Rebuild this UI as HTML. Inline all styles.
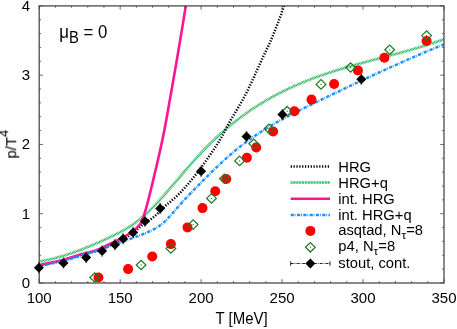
<!DOCTYPE html><html><head><meta charset="utf-8"><title>p/T^4 vs T</title><style>html,body{margin:0;padding:0;background:#fff}svg{display:block}text{font-family:"Liberation Sans",sans-serif;fill:#000;will-change:transform}</style></head><body>
<svg width="457" height="329" viewBox="0 0 457 329">
<rect width="457" height="329" fill="#fff"/>
<defs><clipPath id="c"><rect x="39.20" y="5.90" width="404.80" height="277.10"/></clipPath></defs>
<g clip-path="url(#c)" fill="none">
<clipPath id="gb"><path d="M38.78 260.29 L40.13 260.06 L41.48 259.82 L42.82 259.57 L44.17 259.31 L45.51 259.04 L46.85 258.76 L48.20 258.47 L49.54 258.16 L50.89 257.85 L52.23 257.52 L53.58 257.18 L54.93 256.84 L56.27 256.48 L57.62 256.11 L58.96 255.74 L60.31 255.35 L61.66 254.95 L63.00 254.55 L64.35 254.13 L65.70 253.71 L67.04 253.28 L68.39 252.84 L69.74 252.39 L71.09 251.93 L72.43 251.46 L73.78 250.99 L75.13 250.50 L76.48 250.01 L77.83 249.51 L79.18 249.01 L80.52 248.49 L81.87 247.97 L83.22 247.44 L84.57 246.91 L85.92 246.37 L87.27 245.82 L88.62 245.26 L89.97 244.70 L91.32 244.13 L92.67 243.56 L94.02 242.98 L95.37 242.39 L96.72 241.80 L98.07 241.21 L99.42 240.60 L100.77 240.00 L102.12 239.39 L103.47 238.77 L104.83 238.15 L106.18 237.52 L107.53 236.89 L108.88 236.25 L110.23 235.62 L111.58 234.97 L112.93 234.32 L114.28 233.67 L115.63 233.00 L116.97 232.32 L118.32 231.63 L119.66 230.93 L121.01 230.21 L122.35 229.48 L123.69 228.72 L125.03 227.95 L126.37 227.15 L127.71 226.33 L129.05 225.49 L130.39 224.62 L131.73 223.72 L133.07 222.79 L134.40 221.83 L135.74 220.84 L137.08 219.81 L138.42 218.75 L139.76 217.65 L141.10 216.52 L142.44 215.36 L143.78 214.17 L145.13 212.94 L146.47 211.69 L147.82 210.41 L149.16 209.11 L150.51 207.78 L151.85 206.43 L153.20 205.05 L154.55 203.65 L155.90 202.23 L157.25 200.80 L158.60 199.34 L159.95 197.87 L161.30 196.38 L162.65 194.88 L164.00 193.36 L165.35 191.83 L166.70 190.29 L168.05 188.74 L169.40 187.18 L170.76 185.61 L172.11 184.04 L173.46 182.46 L174.82 180.87 L176.17 179.29 L177.53 177.70 L178.88 176.11 L180.23 174.51 L181.59 172.93 L182.95 171.34 L184.30 169.76 L185.66 168.18 L187.01 166.61 L188.37 165.04 L189.73 163.48 L191.08 161.94 L192.44 160.40 L193.80 158.87 L195.16 157.36 L196.52 155.86 L197.88 154.38 L199.24 152.91 L200.60 151.46 L201.96 150.02 L203.32 148.61 L204.68 147.21 L206.04 145.82 L207.40 144.45 L208.76 143.10 L210.12 141.76 L211.48 140.44 L212.84 139.14 L214.20 137.85 L215.56 136.58 L216.92 135.32 L218.28 134.07 L219.64 132.85 L221.00 131.63 L222.36 130.43 L223.72 129.25 L225.08 128.08 L226.44 126.93 L227.80 125.79 L229.16 124.66 L230.52 123.55 L231.88 122.45 L233.24 121.36 L234.60 120.29 L235.96 119.23 L237.33 118.19 L238.69 117.16 L240.05 116.14 L241.41 115.14 L242.77 114.14 L244.13 113.16 L245.49 112.20 L246.85 111.24 L248.21 110.30 L249.57 109.37 L250.93 108.45 L252.30 107.54 L253.66 106.65 L255.02 105.76 L256.38 104.89 L257.74 104.03 L259.10 103.18 L260.46 102.34 L261.82 101.52 L263.18 100.70 L264.54 99.89 L265.91 99.10 L267.27 98.31 L268.63 97.54 L269.99 96.77 L271.35 96.02 L272.71 95.27 L274.07 94.54 L275.43 93.81 L276.79 93.10 L278.15 92.39 L279.51 91.69 L280.87 91.00 L282.23 90.32 L283.59 89.65 L284.96 88.99 L286.32 88.33 L287.68 87.69 L289.04 87.05 L290.40 86.42 L291.76 85.80 L293.12 85.19 L294.48 84.58 L295.84 83.98 L297.20 83.39 L298.56 82.81 L299.92 82.23 L301.28 81.66 L302.64 81.10 L304.00 80.55 L305.36 80.00 L306.72 79.46 L308.08 78.92 L309.43 78.39 L310.79 77.87 L312.15 77.36 L313.51 76.85 L314.87 76.34 L316.23 75.85 L317.59 75.35 L318.95 74.87 L320.31 74.39 L321.67 73.91 L323.02 73.44 L324.38 72.97 L325.74 72.51 L327.10 72.06 L328.46 71.61 L329.82 71.16 L331.18 70.72 L332.53 70.28 L333.89 69.85 L335.25 69.42 L336.61 69.00 L337.96 68.58 L339.32 68.16 L340.68 67.75 L342.04 67.34 L343.39 66.93 L344.75 66.53 L346.11 66.13 L347.47 65.73 L348.82 65.34 L350.18 64.95 L351.54 64.56 L352.89 64.17 L354.25 63.79 L355.61 63.41 L356.96 63.03 L358.32 62.66 L359.68 62.28 L361.03 61.91 L362.39 61.54 L363.74 61.17 L365.10 60.80 L366.45 60.44 L367.81 60.07 L369.17 59.71 L370.52 59.35 L371.88 58.98 L373.23 58.62 L374.59 58.26 L375.94 57.90 L377.30 57.54 L378.65 57.19 L380.01 56.83 L381.36 56.47 L382.71 56.11 L384.07 55.75 L385.42 55.39 L386.78 55.03 L388.13 54.67 L389.48 54.31 L390.84 53.95 L392.19 53.59 L393.55 53.23 L394.90 52.86 L396.25 52.50 L397.61 52.13 L398.96 51.76 L400.31 51.39 L401.66 51.02 L403.02 50.65 L404.37 50.27 L405.72 49.89 L407.08 49.51 L408.43 49.13 L409.78 48.75 L411.13 48.36 L412.49 47.97 L413.84 47.58 L415.19 47.18 L416.54 46.79 L417.89 46.39 L419.24 45.98 L420.60 45.57 L421.95 45.16 L423.30 44.75 L424.65 44.33 L426.00 43.91 L427.35 43.48 L428.70 43.05 L430.05 42.61 L431.41 42.17 L432.76 41.73 L434.11 41.28 L435.46 40.83 L436.81 40.37 L438.16 39.91 L439.51 39.44 L440.86 38.97 L442.21 38.49 L443.56 38.01 L444.44 40.45 L443.08 40.94 L441.72 41.42 L440.36 41.90 L439.01 42.37 L437.65 42.83 L436.29 43.29 L434.93 43.75 L433.57 44.20 L432.21 44.65 L430.85 45.09 L429.50 45.52 L428.14 45.96 L426.78 46.39 L425.42 46.81 L424.07 47.23 L422.71 47.65 L421.35 48.06 L419.99 48.47 L418.64 48.88 L417.28 49.28 L415.92 49.68 L414.56 50.08 L413.21 50.47 L411.85 50.86 L410.49 51.25 L409.14 51.63 L407.78 52.02 L406.42 52.40 L405.07 52.78 L403.71 53.15 L402.36 53.53 L401.00 53.90 L399.64 54.27 L398.29 54.64 L396.93 55.01 L395.58 55.37 L394.22 55.74 L392.86 56.10 L391.51 56.46 L390.15 56.82 L388.80 57.19 L387.44 57.55 L386.09 57.91 L384.73 58.26 L383.38 58.62 L382.02 58.98 L380.67 59.34 L379.32 59.70 L377.96 60.06 L376.61 60.42 L375.25 60.78 L373.90 61.14 L372.55 61.50 L371.19 61.86 L369.84 62.22 L368.48 62.58 L367.13 62.95 L365.78 63.31 L364.42 63.68 L363.07 64.05 L361.72 64.42 L360.37 64.79 L359.01 65.16 L357.66 65.54 L356.31 65.91 L354.95 66.29 L353.60 66.68 L352.25 67.06 L350.90 67.45 L349.54 67.84 L348.19 68.23 L346.84 68.62 L345.49 69.02 L344.14 69.42 L342.79 69.83 L341.43 70.24 L340.08 70.65 L338.73 71.06 L337.38 71.48 L336.03 71.90 L334.68 72.33 L333.33 72.76 L331.98 73.19 L330.62 73.63 L329.27 74.08 L327.92 74.53 L326.57 74.98 L325.22 75.44 L323.87 75.90 L322.52 76.37 L321.17 76.84 L319.82 77.32 L318.47 77.80 L317.12 78.29 L315.77 78.78 L314.42 79.28 L313.07 79.79 L311.72 80.30 L310.37 80.82 L309.02 81.34 L307.67 81.88 L306.32 82.41 L304.97 82.96 L303.62 83.51 L302.27 84.06 L300.93 84.63 L299.58 85.20 L298.23 85.78 L296.88 86.36 L295.53 86.96 L294.18 87.56 L292.83 88.17 L291.48 88.78 L290.13 89.41 L288.79 90.04 L287.44 90.68 L286.09 91.33 L284.74 91.99 L283.39 92.65 L282.04 93.32 L280.69 94.01 L279.35 94.70 L278.00 95.40 L276.65 96.11 L275.30 96.83 L273.95 97.56 L272.60 98.30 L271.26 99.04 L269.91 99.80 L268.56 100.57 L267.21 101.35 L265.86 102.13 L264.52 102.93 L263.17 103.74 L261.82 104.56 L260.47 105.39 L259.12 106.23 L257.77 107.09 L256.43 107.95 L255.08 108.82 L253.73 109.71 L252.38 110.61 L251.03 111.52 L249.69 112.44 L248.34 113.37 L246.99 114.32 L245.64 115.28 L244.29 116.25 L242.95 117.23 L241.60 118.23 L240.25 119.24 L238.90 120.26 L237.55 121.29 L236.21 122.34 L234.86 123.40 L233.51 124.48 L232.16 125.57 L230.81 126.67 L229.46 127.78 L228.12 128.91 L226.77 130.06 L225.42 131.22 L224.07 132.39 L222.72 133.58 L221.37 134.78 L220.02 136.00 L218.68 137.23 L217.33 138.48 L215.98 139.74 L214.63 141.02 L213.28 142.31 L211.93 143.62 L210.58 144.95 L209.23 146.29 L207.88 147.65 L206.54 149.02 L205.19 150.41 L203.84 151.82 L202.49 153.24 L201.14 154.68 L199.79 156.14 L198.44 157.61 L197.09 159.10 L195.74 160.61 L194.39 162.12 L193.04 163.65 L191.68 165.20 L190.33 166.75 L188.98 168.31 L187.63 169.88 L186.27 171.45 L184.92 173.03 L183.57 174.61 L182.21 176.20 L180.86 177.79 L179.50 179.38 L178.15 180.97 L176.79 182.56 L175.44 184.15 L174.08 185.73 L172.73 187.31 L171.37 188.88 L170.01 190.44 L168.66 192.00 L167.30 193.55 L165.94 195.08 L164.58 196.61 L163.23 198.12 L161.87 199.62 L160.51 201.10 L159.15 202.57 L157.79 204.02 L156.43 205.45 L155.07 206.86 L153.70 208.25 L152.34 209.62 L150.98 210.97 L149.62 212.29 L148.25 213.59 L146.89 214.86 L145.52 216.10 L144.15 217.31 L142.79 218.50 L141.42 219.65 L140.05 220.77 L138.68 221.86 L137.31 222.91 L135.94 223.93 L134.57 224.91 L133.19 225.87 L131.82 226.79 L130.45 227.68 L129.08 228.54 L127.71 229.38 L126.35 230.19 L124.98 230.98 L123.61 231.75 L122.24 232.50 L120.88 233.23 L119.51 233.94 L118.15 234.64 L116.79 235.33 L115.43 236.00 L114.07 236.66 L112.71 237.32 L111.35 237.96 L109.99 238.61 L108.63 239.24 L107.27 239.88 L105.92 240.51 L104.56 241.13 L103.20 241.75 L101.84 242.37 L100.48 242.98 L99.13 243.58 L97.77 244.18 L96.41 244.78 L95.05 245.37 L93.69 245.95 L92.33 246.53 L90.97 247.10 L89.61 247.67 L88.25 248.23 L86.90 248.78 L85.54 249.32 L84.18 249.86 L82.82 250.40 L81.46 250.92 L80.10 251.44 L78.73 251.95 L77.37 252.45 L76.01 252.95 L74.65 253.44 L73.29 253.92 L71.93 254.39 L70.57 254.85 L69.21 255.30 L67.85 255.75 L66.48 256.19 L65.12 256.62 L63.76 257.04 L62.40 257.45 L61.03 257.85 L59.67 258.24 L58.31 258.62 L56.95 258.99 L55.58 259.35 L54.22 259.70 L52.86 260.04 L51.49 260.37 L50.13 260.69 L48.76 261.00 L47.40 261.30 L46.04 261.59 L44.67 261.86 L43.31 262.13 L41.94 262.38 L40.58 262.62 L39.22 262.85Z"/></clipPath>
<g clip-path="url(#gb)"><path d="M38.78 260.29 L40.13 260.06 L41.48 259.82 L42.82 259.57 L44.17 259.31 L45.51 259.04 L46.85 258.76 L48.20 258.47 L49.54 258.16 L50.89 257.85 L52.23 257.52 L53.58 257.18 L54.93 256.84 L56.27 256.48 L57.62 256.11 L58.96 255.74 L60.31 255.35 L61.66 254.95 L63.00 254.55 L64.35 254.13 L65.70 253.71 L67.04 253.28 L68.39 252.84 L69.74 252.39 L71.09 251.93 L72.43 251.46 L73.78 250.99 L75.13 250.50 L76.48 250.01 L77.83 249.51 L79.18 249.01 L80.52 248.49 L81.87 247.97 L83.22 247.44 L84.57 246.91 L85.92 246.37 L87.27 245.82 L88.62 245.26 L89.97 244.70 L91.32 244.13 L92.67 243.56 L94.02 242.98 L95.37 242.39 L96.72 241.80 L98.07 241.21 L99.42 240.60 L100.77 240.00 L102.12 239.39 L103.47 238.77 L104.83 238.15 L106.18 237.52 L107.53 236.89 L108.88 236.25 L110.23 235.62 L111.58 234.97 L112.93 234.32 L114.28 233.67 L115.63 233.00 L116.97 232.32 L118.32 231.63 L119.66 230.93 L121.01 230.21 L122.35 229.48 L123.69 228.72 L125.03 227.95 L126.37 227.15 L127.71 226.33 L129.05 225.49 L130.39 224.62 L131.73 223.72 L133.07 222.79 L134.40 221.83 L135.74 220.84 L137.08 219.81 L138.42 218.75 L139.76 217.65 L141.10 216.52 L142.44 215.36 L143.78 214.17 L145.13 212.94 L146.47 211.69 L147.82 210.41 L149.16 209.11 L150.51 207.78 L151.85 206.43 L153.20 205.05 L154.55 203.65 L155.90 202.23 L157.25 200.80 L158.60 199.34 L159.95 197.87 L161.30 196.38 L162.65 194.88 L164.00 193.36 L165.35 191.83 L166.70 190.29 L168.05 188.74 L169.40 187.18 L170.76 185.61 L172.11 184.04 L173.46 182.46 L174.82 180.87 L176.17 179.29 L177.53 177.70 L178.88 176.11 L180.23 174.51 L181.59 172.93 L182.95 171.34 L184.30 169.76 L185.66 168.18 L187.01 166.61 L188.37 165.04 L189.73 163.48 L191.08 161.94 L192.44 160.40 L193.80 158.87 L195.16 157.36 L196.52 155.86 L197.88 154.38 L199.24 152.91 L200.60 151.46 L201.96 150.02 L203.32 148.61 L204.68 147.21 L206.04 145.82 L207.40 144.45 L208.76 143.10 L210.12 141.76 L211.48 140.44 L212.84 139.14 L214.20 137.85 L215.56 136.58 L216.92 135.32 L218.28 134.07 L219.64 132.85 L221.00 131.63 L222.36 130.43 L223.72 129.25 L225.08 128.08 L226.44 126.93 L227.80 125.79 L229.16 124.66 L230.52 123.55 L231.88 122.45 L233.24 121.36 L234.60 120.29 L235.96 119.23 L237.33 118.19 L238.69 117.16 L240.05 116.14 L241.41 115.14 L242.77 114.14 L244.13 113.16 L245.49 112.20 L246.85 111.24 L248.21 110.30 L249.57 109.37 L250.93 108.45 L252.30 107.54 L253.66 106.65 L255.02 105.76 L256.38 104.89 L257.74 104.03 L259.10 103.18 L260.46 102.34 L261.82 101.52 L263.18 100.70 L264.54 99.89 L265.91 99.10 L267.27 98.31 L268.63 97.54 L269.99 96.77 L271.35 96.02 L272.71 95.27 L274.07 94.54 L275.43 93.81 L276.79 93.10 L278.15 92.39 L279.51 91.69 L280.87 91.00 L282.23 90.32 L283.59 89.65 L284.96 88.99 L286.32 88.33 L287.68 87.69 L289.04 87.05 L290.40 86.42 L291.76 85.80 L293.12 85.19 L294.48 84.58 L295.84 83.98 L297.20 83.39 L298.56 82.81 L299.92 82.23 L301.28 81.66 L302.64 81.10 L304.00 80.55 L305.36 80.00 L306.72 79.46 L308.08 78.92 L309.43 78.39 L310.79 77.87 L312.15 77.36 L313.51 76.85 L314.87 76.34 L316.23 75.85 L317.59 75.35 L318.95 74.87 L320.31 74.39 L321.67 73.91 L323.02 73.44 L324.38 72.97 L325.74 72.51 L327.10 72.06 L328.46 71.61 L329.82 71.16 L331.18 70.72 L332.53 70.28 L333.89 69.85 L335.25 69.42 L336.61 69.00 L337.96 68.58 L339.32 68.16 L340.68 67.75 L342.04 67.34 L343.39 66.93 L344.75 66.53 L346.11 66.13 L347.47 65.73 L348.82 65.34 L350.18 64.95 L351.54 64.56 L352.89 64.17 L354.25 63.79 L355.61 63.41 L356.96 63.03 L358.32 62.66 L359.68 62.28 L361.03 61.91 L362.39 61.54 L363.74 61.17 L365.10 60.80 L366.45 60.44 L367.81 60.07 L369.17 59.71 L370.52 59.35 L371.88 58.98 L373.23 58.62 L374.59 58.26 L375.94 57.90 L377.30 57.54 L378.65 57.19 L380.01 56.83 L381.36 56.47 L382.71 56.11 L384.07 55.75 L385.42 55.39 L386.78 55.03 L388.13 54.67 L389.48 54.31 L390.84 53.95 L392.19 53.59 L393.55 53.23 L394.90 52.86 L396.25 52.50 L397.61 52.13 L398.96 51.76 L400.31 51.39 L401.66 51.02 L403.02 50.65 L404.37 50.27 L405.72 49.89 L407.08 49.51 L408.43 49.13 L409.78 48.75 L411.13 48.36 L412.49 47.97 L413.84 47.58 L415.19 47.18 L416.54 46.79 L417.89 46.39 L419.24 45.98 L420.60 45.57 L421.95 45.16 L423.30 44.75 L424.65 44.33 L426.00 43.91 L427.35 43.48 L428.70 43.05 L430.05 42.61 L431.41 42.17 L432.76 41.73 L434.11 41.28 L435.46 40.83 L436.81 40.37 L438.16 39.91 L439.51 39.44 L440.86 38.97 L442.21 38.49 L443.56 38.01 L444.44 40.45 L443.08 40.94 L441.72 41.42 L440.36 41.90 L439.01 42.37 L437.65 42.83 L436.29 43.29 L434.93 43.75 L433.57 44.20 L432.21 44.65 L430.85 45.09 L429.50 45.52 L428.14 45.96 L426.78 46.39 L425.42 46.81 L424.07 47.23 L422.71 47.65 L421.35 48.06 L419.99 48.47 L418.64 48.88 L417.28 49.28 L415.92 49.68 L414.56 50.08 L413.21 50.47 L411.85 50.86 L410.49 51.25 L409.14 51.63 L407.78 52.02 L406.42 52.40 L405.07 52.78 L403.71 53.15 L402.36 53.53 L401.00 53.90 L399.64 54.27 L398.29 54.64 L396.93 55.01 L395.58 55.37 L394.22 55.74 L392.86 56.10 L391.51 56.46 L390.15 56.82 L388.80 57.19 L387.44 57.55 L386.09 57.91 L384.73 58.26 L383.38 58.62 L382.02 58.98 L380.67 59.34 L379.32 59.70 L377.96 60.06 L376.61 60.42 L375.25 60.78 L373.90 61.14 L372.55 61.50 L371.19 61.86 L369.84 62.22 L368.48 62.58 L367.13 62.95 L365.78 63.31 L364.42 63.68 L363.07 64.05 L361.72 64.42 L360.37 64.79 L359.01 65.16 L357.66 65.54 L356.31 65.91 L354.95 66.29 L353.60 66.68 L352.25 67.06 L350.90 67.45 L349.54 67.84 L348.19 68.23 L346.84 68.62 L345.49 69.02 L344.14 69.42 L342.79 69.83 L341.43 70.24 L340.08 70.65 L338.73 71.06 L337.38 71.48 L336.03 71.90 L334.68 72.33 L333.33 72.76 L331.98 73.19 L330.62 73.63 L329.27 74.08 L327.92 74.53 L326.57 74.98 L325.22 75.44 L323.87 75.90 L322.52 76.37 L321.17 76.84 L319.82 77.32 L318.47 77.80 L317.12 78.29 L315.77 78.78 L314.42 79.28 L313.07 79.79 L311.72 80.30 L310.37 80.82 L309.02 81.34 L307.67 81.88 L306.32 82.41 L304.97 82.96 L303.62 83.51 L302.27 84.06 L300.93 84.63 L299.58 85.20 L298.23 85.78 L296.88 86.36 L295.53 86.96 L294.18 87.56 L292.83 88.17 L291.48 88.78 L290.13 89.41 L288.79 90.04 L287.44 90.68 L286.09 91.33 L284.74 91.99 L283.39 92.65 L282.04 93.32 L280.69 94.01 L279.35 94.70 L278.00 95.40 L276.65 96.11 L275.30 96.83 L273.95 97.56 L272.60 98.30 L271.26 99.04 L269.91 99.80 L268.56 100.57 L267.21 101.35 L265.86 102.13 L264.52 102.93 L263.17 103.74 L261.82 104.56 L260.47 105.39 L259.12 106.23 L257.77 107.09 L256.43 107.95 L255.08 108.82 L253.73 109.71 L252.38 110.61 L251.03 111.52 L249.69 112.44 L248.34 113.37 L246.99 114.32 L245.64 115.28 L244.29 116.25 L242.95 117.23 L241.60 118.23 L240.25 119.24 L238.90 120.26 L237.55 121.29 L236.21 122.34 L234.86 123.40 L233.51 124.48 L232.16 125.57 L230.81 126.67 L229.46 127.78 L228.12 128.91 L226.77 130.06 L225.42 131.22 L224.07 132.39 L222.72 133.58 L221.37 134.78 L220.02 136.00 L218.68 137.23 L217.33 138.48 L215.98 139.74 L214.63 141.02 L213.28 142.31 L211.93 143.62 L210.58 144.95 L209.23 146.29 L207.88 147.65 L206.54 149.02 L205.19 150.41 L203.84 151.82 L202.49 153.24 L201.14 154.68 L199.79 156.14 L198.44 157.61 L197.09 159.10 L195.74 160.61 L194.39 162.12 L193.04 163.65 L191.68 165.20 L190.33 166.75 L188.98 168.31 L187.63 169.88 L186.27 171.45 L184.92 173.03 L183.57 174.61 L182.21 176.20 L180.86 177.79 L179.50 179.38 L178.15 180.97 L176.79 182.56 L175.44 184.15 L174.08 185.73 L172.73 187.31 L171.37 188.88 L170.01 190.44 L168.66 192.00 L167.30 193.55 L165.94 195.08 L164.58 196.61 L163.23 198.12 L161.87 199.62 L160.51 201.10 L159.15 202.57 L157.79 204.02 L156.43 205.45 L155.07 206.86 L153.70 208.25 L152.34 209.62 L150.98 210.97 L149.62 212.29 L148.25 213.59 L146.89 214.86 L145.52 216.10 L144.15 217.31 L142.79 218.50 L141.42 219.65 L140.05 220.77 L138.68 221.86 L137.31 222.91 L135.94 223.93 L134.57 224.91 L133.19 225.87 L131.82 226.79 L130.45 227.68 L129.08 228.54 L127.71 229.38 L126.35 230.19 L124.98 230.98 L123.61 231.75 L122.24 232.50 L120.88 233.23 L119.51 233.94 L118.15 234.64 L116.79 235.33 L115.43 236.00 L114.07 236.66 L112.71 237.32 L111.35 237.96 L109.99 238.61 L108.63 239.24 L107.27 239.88 L105.92 240.51 L104.56 241.13 L103.20 241.75 L101.84 242.37 L100.48 242.98 L99.13 243.58 L97.77 244.18 L96.41 244.78 L95.05 245.37 L93.69 245.95 L92.33 246.53 L90.97 247.10 L89.61 247.67 L88.25 248.23 L86.90 248.78 L85.54 249.32 L84.18 249.86 L82.82 250.40 L81.46 250.92 L80.10 251.44 L78.73 251.95 L77.37 252.45 L76.01 252.95 L74.65 253.44 L73.29 253.92 L71.93 254.39 L70.57 254.85 L69.21 255.30 L67.85 255.75 L66.48 256.19 L65.12 256.62 L63.76 257.04 L62.40 257.45 L61.03 257.85 L59.67 258.24 L58.31 258.62 L56.95 258.99 L55.58 259.35 L54.22 259.70 L52.86 260.04 L51.49 260.37 L50.13 260.69 L48.76 261.00 L47.40 261.30 L46.04 261.59 L44.67 261.86 L43.31 262.13 L41.94 262.38 L40.58 262.62 L39.22 262.85Z" fill="#dcf6e6"/><path d="M-189.64 263.85 L37.20 37.01 M-186.94 263.85 L39.90 37.01 M-184.24 263.85 L42.60 37.01 M-181.54 263.85 L45.30 37.01 M-178.84 263.85 L48.00 37.01 M-176.14 263.85 L50.70 37.01 M-173.44 263.85 L53.40 37.01 M-170.74 263.85 L56.10 37.01 M-168.04 263.85 L58.80 37.01 M-165.34 263.85 L61.50 37.01 M-162.64 263.85 L64.20 37.01 M-159.94 263.85 L66.90 37.01 M-157.24 263.85 L69.60 37.01 M-154.54 263.85 L72.30 37.01 M-151.84 263.85 L75.00 37.01 M-149.14 263.85 L77.70 37.01 M-146.44 263.85 L80.40 37.01 M-143.74 263.85 L83.10 37.01 M-141.04 263.85 L85.80 37.01 M-138.34 263.85 L88.50 37.01 M-135.64 263.85 L91.20 37.01 M-132.94 263.85 L93.90 37.01 M-130.24 263.85 L96.60 37.01 M-127.54 263.85 L99.30 37.01 M-124.84 263.85 L102.00 37.01 M-122.14 263.85 L104.70 37.01 M-119.44 263.85 L107.40 37.01 M-116.74 263.85 L110.10 37.01 M-114.04 263.85 L112.80 37.01 M-111.34 263.85 L115.50 37.01 M-108.64 263.85 L118.20 37.01 M-105.94 263.85 L120.90 37.01 M-103.24 263.85 L123.60 37.01 M-100.54 263.85 L126.30 37.01 M-97.84 263.85 L129.00 37.01 M-95.14 263.85 L131.70 37.01 M-92.44 263.85 L134.40 37.01 M-89.74 263.85 L137.10 37.01 M-87.04 263.85 L139.80 37.01 M-84.34 263.85 L142.50 37.01 M-81.64 263.85 L145.20 37.01 M-78.94 263.85 L147.90 37.01 M-76.24 263.85 L150.60 37.01 M-73.54 263.85 L153.30 37.01 M-70.84 263.85 L156.00 37.01 M-68.14 263.85 L158.70 37.01 M-65.44 263.85 L161.40 37.01 M-62.74 263.85 L164.10 37.01 M-60.04 263.85 L166.80 37.01 M-57.34 263.85 L169.50 37.01 M-54.64 263.85 L172.20 37.01 M-51.94 263.85 L174.90 37.01 M-49.24 263.85 L177.60 37.01 M-46.54 263.85 L180.30 37.01 M-43.84 263.85 L183.00 37.01 M-41.14 263.85 L185.70 37.01 M-38.44 263.85 L188.40 37.01 M-35.74 263.85 L191.10 37.01 M-33.04 263.85 L193.80 37.01 M-30.34 263.85 L196.50 37.01 M-27.64 263.85 L199.20 37.01 M-24.94 263.85 L201.90 37.01 M-22.24 263.85 L204.60 37.01 M-19.54 263.85 L207.30 37.01 M-16.84 263.85 L210.00 37.01 M-14.14 263.85 L212.70 37.01 M-11.44 263.85 L215.40 37.01 M-8.74 263.85 L218.10 37.01 M-6.04 263.85 L220.80 37.01 M-3.34 263.85 L223.50 37.01 M-0.64 263.85 L226.20 37.01 M2.06 263.85 L228.90 37.01 M4.76 263.85 L231.60 37.01 M7.46 263.85 L234.30 37.01 M10.16 263.85 L237.00 37.01 M12.86 263.85 L239.70 37.01 M15.56 263.85 L242.40 37.01 M18.26 263.85 L245.10 37.01 M20.96 263.85 L247.80 37.01 M23.66 263.85 L250.50 37.01 M26.36 263.85 L253.20 37.01 M29.06 263.85 L255.90 37.01 M31.76 263.85 L258.60 37.01 M34.46 263.85 L261.30 37.01 M37.16 263.85 L264.00 37.01 M39.86 263.85 L266.70 37.01 M42.56 263.85 L269.40 37.01 M45.26 263.85 L272.10 37.01 M47.96 263.85 L274.80 37.01 M50.66 263.85 L277.50 37.01 M53.36 263.85 L280.20 37.01 M56.06 263.85 L282.90 37.01 M58.76 263.85 L285.60 37.01 M61.46 263.85 L288.30 37.01 M64.16 263.85 L291.00 37.01 M66.86 263.85 L293.70 37.01 M69.56 263.85 L296.40 37.01 M72.26 263.85 L299.10 37.01 M74.96 263.85 L301.80 37.01 M77.66 263.85 L304.50 37.01 M80.36 263.85 L307.20 37.01 M83.06 263.85 L309.90 37.01 M85.76 263.85 L312.60 37.01 M88.46 263.85 L315.30 37.01 M91.16 263.85 L318.00 37.01 M93.86 263.85 L320.70 37.01 M96.56 263.85 L323.40 37.01 M99.26 263.85 L326.10 37.01 M101.96 263.85 L328.80 37.01 M104.66 263.85 L331.50 37.01 M107.36 263.85 L334.20 37.01 M110.06 263.85 L336.90 37.01 M112.76 263.85 L339.60 37.01 M115.46 263.85 L342.30 37.01 M118.16 263.85 L345.00 37.01 M120.86 263.85 L347.70 37.01 M123.56 263.85 L350.40 37.01 M126.26 263.85 L353.10 37.01 M128.96 263.85 L355.80 37.01 M131.66 263.85 L358.50 37.01 M134.36 263.85 L361.20 37.01 M137.06 263.85 L363.90 37.01 M139.76 263.85 L366.60 37.01 M142.46 263.85 L369.30 37.01 M145.16 263.85 L372.00 37.01 M147.86 263.85 L374.70 37.01 M150.56 263.85 L377.40 37.01 M153.26 263.85 L380.10 37.01 M155.96 263.85 L382.80 37.01 M158.66 263.85 L385.50 37.01 M161.36 263.85 L388.20 37.01 M164.06 263.85 L390.90 37.01 M166.76 263.85 L393.60 37.01 M169.46 263.85 L396.30 37.01 M172.16 263.85 L399.00 37.01 M174.86 263.85 L401.70 37.01 M177.56 263.85 L404.40 37.01 M180.26 263.85 L407.10 37.01 M182.96 263.85 L409.80 37.01 M185.66 263.85 L412.50 37.01 M188.36 263.85 L415.20 37.01 M191.06 263.85 L417.90 37.01 M193.76 263.85 L420.60 37.01 M196.46 263.85 L423.30 37.01 M199.16 263.85 L426.00 37.01 M201.86 263.85 L428.70 37.01 M204.56 263.85 L431.40 37.01 M207.26 263.85 L434.10 37.01 M209.96 263.85 L436.80 37.01 M212.66 263.85 L439.50 37.01 M215.36 263.85 L442.20 37.01 M218.06 263.85 L444.90 37.01 M220.76 263.85 L447.60 37.01 M223.46 263.85 L450.30 37.01 M226.16 263.85 L453.00 37.01 M228.86 263.85 L455.70 37.01 M231.56 263.85 L458.40 37.01 M234.26 263.85 L461.10 37.01 M236.96 263.85 L463.80 37.01 M239.66 263.85 L466.50 37.01 M242.36 263.85 L469.20 37.01 M245.06 263.85 L471.90 37.01 M247.76 263.85 L474.60 37.01 M250.46 263.85 L477.30 37.01 M253.16 263.85 L480.00 37.01 M255.86 263.85 L482.70 37.01 M258.56 263.85 L485.40 37.01 M261.26 263.85 L488.10 37.01 M263.96 263.85 L490.80 37.01 M266.66 263.85 L493.50 37.01 M269.36 263.85 L496.20 37.01 M272.06 263.85 L498.90 37.01 M274.76 263.85 L501.60 37.01 M277.46 263.85 L504.30 37.01 M280.16 263.85 L507.00 37.01 M282.86 263.85 L509.70 37.01 M285.56 263.85 L512.40 37.01 M288.26 263.85 L515.10 37.01 M290.96 263.85 L517.80 37.01 M293.66 263.85 L520.50 37.01 M296.36 263.85 L523.20 37.01 M299.06 263.85 L525.90 37.01 M301.76 263.85 L528.60 37.01 M304.46 263.85 L531.30 37.01 M307.16 263.85 L534.00 37.01 M309.86 263.85 L536.70 37.01 M312.56 263.85 L539.40 37.01 M315.26 263.85 L542.10 37.01 M317.96 263.85 L544.80 37.01 M320.66 263.85 L547.50 37.01 M323.36 263.85 L550.20 37.01 M326.06 263.85 L552.90 37.01 M328.76 263.85 L555.60 37.01 M331.46 263.85 L558.30 37.01 M334.16 263.85 L561.00 37.01 M336.86 263.85 L563.70 37.01 M339.56 263.85 L566.40 37.01 M342.26 263.85 L569.10 37.01 M344.96 263.85 L571.80 37.01 M347.66 263.85 L574.50 37.01 M350.36 263.85 L577.20 37.01 M353.06 263.85 L579.90 37.01 M355.76 263.85 L582.60 37.01 M358.46 263.85 L585.30 37.01 M361.16 263.85 L588.00 37.01 M363.86 263.85 L590.70 37.01 M366.56 263.85 L593.40 37.01 M369.26 263.85 L596.10 37.01 M371.96 263.85 L598.80 37.01 M374.66 263.85 L601.50 37.01 M377.36 263.85 L604.20 37.01 M380.06 263.85 L606.90 37.01 M382.76 263.85 L609.60 37.01 M385.46 263.85 L612.30 37.01 M388.16 263.85 L615.00 37.01 M390.86 263.85 L617.70 37.01 M393.56 263.85 L620.40 37.01 M396.26 263.85 L623.10 37.01 M398.96 263.85 L625.80 37.01 M401.66 263.85 L628.50 37.01 M404.36 263.85 L631.20 37.01 M407.06 263.85 L633.90 37.01 M409.76 263.85 L636.60 37.01 M412.46 263.85 L639.30 37.01 M415.16 263.85 L642.00 37.01 M417.86 263.85 L644.70 37.01 M420.56 263.85 L647.40 37.01 M423.26 263.85 L650.10 37.01 M425.96 263.85 L652.80 37.01 M428.66 263.85 L655.50 37.01 M431.36 263.85 L658.20 37.01 M434.06 263.85 L660.90 37.01 M436.76 263.85 L663.60 37.01 M439.46 263.85 L666.30 37.01 M442.16 263.85 L669.00 37.01 M444.86 263.85 L671.70 37.01" stroke="#28b35c" stroke-width="1.15"/></g>
<path d="M38.78 260.29 L40.13 260.06 L41.48 259.82 L42.82 259.57 L44.17 259.31 L45.51 259.04 L46.85 258.76 L48.20 258.47 L49.54 258.16 L50.89 257.85 L52.23 257.52 L53.58 257.18 L54.93 256.84 L56.27 256.48 L57.62 256.11 L58.96 255.74 L60.31 255.35 L61.66 254.95 L63.00 254.55 L64.35 254.13 L65.70 253.71 L67.04 253.28 L68.39 252.84 L69.74 252.39 L71.09 251.93 L72.43 251.46 L73.78 250.99 L75.13 250.50 L76.48 250.01 L77.83 249.51 L79.18 249.01 L80.52 248.49 L81.87 247.97 L83.22 247.44 L84.57 246.91 L85.92 246.37 L87.27 245.82 L88.62 245.26 L89.97 244.70 L91.32 244.13 L92.67 243.56 L94.02 242.98 L95.37 242.39 L96.72 241.80 L98.07 241.21 L99.42 240.60 L100.77 240.00 L102.12 239.39 L103.47 238.77 L104.83 238.15 L106.18 237.52 L107.53 236.89 L108.88 236.25 L110.23 235.62 L111.58 234.97 L112.93 234.32 L114.28 233.67 L115.63 233.00 L116.97 232.32 L118.32 231.63 L119.66 230.93 L121.01 230.21 L122.35 229.48 L123.69 228.72 L125.03 227.95 L126.37 227.15 L127.71 226.33 L129.05 225.49 L130.39 224.62 L131.73 223.72 L133.07 222.79 L134.40 221.83 L135.74 220.84 L137.08 219.81 L138.42 218.75 L139.76 217.65 L141.10 216.52 L142.44 215.36 L143.78 214.17 L145.13 212.94 L146.47 211.69 L147.82 210.41 L149.16 209.11 L150.51 207.78 L151.85 206.43 L153.20 205.05 L154.55 203.65 L155.90 202.23 L157.25 200.80 L158.60 199.34 L159.95 197.87 L161.30 196.38 L162.65 194.88 L164.00 193.36 L165.35 191.83 L166.70 190.29 L168.05 188.74 L169.40 187.18 L170.76 185.61 L172.11 184.04 L173.46 182.46 L174.82 180.87 L176.17 179.29 L177.53 177.70 L178.88 176.11 L180.23 174.51 L181.59 172.93 L182.95 171.34 L184.30 169.76 L185.66 168.18 L187.01 166.61 L188.37 165.04 L189.73 163.48 L191.08 161.94 L192.44 160.40 L193.80 158.87 L195.16 157.36 L196.52 155.86 L197.88 154.38 L199.24 152.91 L200.60 151.46 L201.96 150.02 L203.32 148.61 L204.68 147.21 L206.04 145.82 L207.40 144.45 L208.76 143.10 L210.12 141.76 L211.48 140.44 L212.84 139.14 L214.20 137.85 L215.56 136.58 L216.92 135.32 L218.28 134.07 L219.64 132.85 L221.00 131.63 L222.36 130.43 L223.72 129.25 L225.08 128.08 L226.44 126.93 L227.80 125.79 L229.16 124.66 L230.52 123.55 L231.88 122.45 L233.24 121.36 L234.60 120.29 L235.96 119.23 L237.33 118.19 L238.69 117.16 L240.05 116.14 L241.41 115.14 L242.77 114.14 L244.13 113.16 L245.49 112.20 L246.85 111.24 L248.21 110.30 L249.57 109.37 L250.93 108.45 L252.30 107.54 L253.66 106.65 L255.02 105.76 L256.38 104.89 L257.74 104.03 L259.10 103.18 L260.46 102.34 L261.82 101.52 L263.18 100.70 L264.54 99.89 L265.91 99.10 L267.27 98.31 L268.63 97.54 L269.99 96.77 L271.35 96.02 L272.71 95.27 L274.07 94.54 L275.43 93.81 L276.79 93.10 L278.15 92.39 L279.51 91.69 L280.87 91.00 L282.23 90.32 L283.59 89.65 L284.96 88.99 L286.32 88.33 L287.68 87.69 L289.04 87.05 L290.40 86.42 L291.76 85.80 L293.12 85.19 L294.48 84.58 L295.84 83.98 L297.20 83.39 L298.56 82.81 L299.92 82.23 L301.28 81.66 L302.64 81.10 L304.00 80.55 L305.36 80.00 L306.72 79.46 L308.08 78.92 L309.43 78.39 L310.79 77.87 L312.15 77.36 L313.51 76.85 L314.87 76.34 L316.23 75.85 L317.59 75.35 L318.95 74.87 L320.31 74.39 L321.67 73.91 L323.02 73.44 L324.38 72.97 L325.74 72.51 L327.10 72.06 L328.46 71.61 L329.82 71.16 L331.18 70.72 L332.53 70.28 L333.89 69.85 L335.25 69.42 L336.61 69.00 L337.96 68.58 L339.32 68.16 L340.68 67.75 L342.04 67.34 L343.39 66.93 L344.75 66.53 L346.11 66.13 L347.47 65.73 L348.82 65.34 L350.18 64.95 L351.54 64.56 L352.89 64.17 L354.25 63.79 L355.61 63.41 L356.96 63.03 L358.32 62.66 L359.68 62.28 L361.03 61.91 L362.39 61.54 L363.74 61.17 L365.10 60.80 L366.45 60.44 L367.81 60.07 L369.17 59.71 L370.52 59.35 L371.88 58.98 L373.23 58.62 L374.59 58.26 L375.94 57.90 L377.30 57.54 L378.65 57.19 L380.01 56.83 L381.36 56.47 L382.71 56.11 L384.07 55.75 L385.42 55.39 L386.78 55.03 L388.13 54.67 L389.48 54.31 L390.84 53.95 L392.19 53.59 L393.55 53.23 L394.90 52.86 L396.25 52.50 L397.61 52.13 L398.96 51.76 L400.31 51.39 L401.66 51.02 L403.02 50.65 L404.37 50.27 L405.72 49.89 L407.08 49.51 L408.43 49.13 L409.78 48.75 L411.13 48.36 L412.49 47.97 L413.84 47.58 L415.19 47.18 L416.54 46.79 L417.89 46.39 L419.24 45.98 L420.60 45.57 L421.95 45.16 L423.30 44.75 L424.65 44.33 L426.00 43.91 L427.35 43.48 L428.70 43.05 L430.05 42.61 L431.41 42.17 L432.76 41.73 L434.11 41.28 L435.46 40.83 L436.81 40.37 L438.16 39.91 L439.51 39.44 L440.86 38.97 L442.21 38.49 L443.56 38.01" stroke="#a6e4bd" stroke-width="0.4"/>
<path d="M39.22 262.85 L40.58 262.62 L41.94 262.38 L43.31 262.13 L44.67 261.86 L46.04 261.59 L47.40 261.30 L48.76 261.00 L50.13 260.69 L51.49 260.37 L52.86 260.04 L54.22 259.70 L55.58 259.35 L56.95 258.99 L58.31 258.62 L59.67 258.24 L61.03 257.85 L62.40 257.45 L63.76 257.04 L65.12 256.62 L66.48 256.19 L67.85 255.75 L69.21 255.30 L70.57 254.85 L71.93 254.39 L73.29 253.92 L74.65 253.44 L76.01 252.95 L77.37 252.45 L78.73 251.95 L80.10 251.44 L81.46 250.92 L82.82 250.40 L84.18 249.86 L85.54 249.32 L86.90 248.78 L88.25 248.23 L89.61 247.67 L90.97 247.10 L92.33 246.53 L93.69 245.95 L95.05 245.37 L96.41 244.78 L97.77 244.18 L99.13 243.58 L100.48 242.98 L101.84 242.37 L103.20 241.75 L104.56 241.13 L105.92 240.51 L107.27 239.88 L108.63 239.24 L109.99 238.61 L111.35 237.96 L112.71 237.32 L114.07 236.66 L115.43 236.00 L116.79 235.33 L118.15 234.64 L119.51 233.94 L120.88 233.23 L122.24 232.50 L123.61 231.75 L124.98 230.98 L126.35 230.19 L127.71 229.38 L129.08 228.54 L130.45 227.68 L131.82 226.79 L133.19 225.87 L134.57 224.91 L135.94 223.93 L137.31 222.91 L138.68 221.86 L140.05 220.77 L141.42 219.65 L142.79 218.50 L144.15 217.31 L145.52 216.10 L146.89 214.86 L148.25 213.59 L149.62 212.29 L150.98 210.97 L152.34 209.62 L153.70 208.25 L155.07 206.86 L156.43 205.45 L157.79 204.02 L159.15 202.57 L160.51 201.10 L161.87 199.62 L163.23 198.12 L164.58 196.61 L165.94 195.08 L167.30 193.55 L168.66 192.00 L170.01 190.44 L171.37 188.88 L172.73 187.31 L174.08 185.73 L175.44 184.15 L176.79 182.56 L178.15 180.97 L179.50 179.38 L180.86 177.79 L182.21 176.20 L183.57 174.61 L184.92 173.03 L186.27 171.45 L187.63 169.88 L188.98 168.31 L190.33 166.75 L191.68 165.20 L193.04 163.65 L194.39 162.12 L195.74 160.61 L197.09 159.10 L198.44 157.61 L199.79 156.14 L201.14 154.68 L202.49 153.24 L203.84 151.82 L205.19 150.41 L206.54 149.02 L207.88 147.65 L209.23 146.29 L210.58 144.95 L211.93 143.62 L213.28 142.31 L214.63 141.02 L215.98 139.74 L217.33 138.48 L218.68 137.23 L220.02 136.00 L221.37 134.78 L222.72 133.58 L224.07 132.39 L225.42 131.22 L226.77 130.06 L228.12 128.91 L229.46 127.78 L230.81 126.67 L232.16 125.57 L233.51 124.48 L234.86 123.40 L236.21 122.34 L237.55 121.29 L238.90 120.26 L240.25 119.24 L241.60 118.23 L242.95 117.23 L244.29 116.25 L245.64 115.28 L246.99 114.32 L248.34 113.37 L249.69 112.44 L251.03 111.52 L252.38 110.61 L253.73 109.71 L255.08 108.82 L256.43 107.95 L257.77 107.09 L259.12 106.23 L260.47 105.39 L261.82 104.56 L263.17 103.74 L264.52 102.93 L265.86 102.13 L267.21 101.35 L268.56 100.57 L269.91 99.80 L271.26 99.04 L272.60 98.30 L273.95 97.56 L275.30 96.83 L276.65 96.11 L278.00 95.40 L279.35 94.70 L280.69 94.01 L282.04 93.32 L283.39 92.65 L284.74 91.99 L286.09 91.33 L287.44 90.68 L288.79 90.04 L290.13 89.41 L291.48 88.78 L292.83 88.17 L294.18 87.56 L295.53 86.96 L296.88 86.36 L298.23 85.78 L299.58 85.20 L300.93 84.63 L302.27 84.06 L303.62 83.51 L304.97 82.96 L306.32 82.41 L307.67 81.88 L309.02 81.34 L310.37 80.82 L311.72 80.30 L313.07 79.79 L314.42 79.28 L315.77 78.78 L317.12 78.29 L318.47 77.80 L319.82 77.32 L321.17 76.84 L322.52 76.37 L323.87 75.90 L325.22 75.44 L326.57 74.98 L327.92 74.53 L329.27 74.08 L330.62 73.63 L331.98 73.19 L333.33 72.76 L334.68 72.33 L336.03 71.90 L337.38 71.48 L338.73 71.06 L340.08 70.65 L341.43 70.24 L342.79 69.83 L344.14 69.42 L345.49 69.02 L346.84 68.62 L348.19 68.23 L349.54 67.84 L350.90 67.45 L352.25 67.06 L353.60 66.68 L354.95 66.29 L356.31 65.91 L357.66 65.54 L359.01 65.16 L360.37 64.79 L361.72 64.42 L363.07 64.05 L364.42 63.68 L365.78 63.31 L367.13 62.95 L368.48 62.58 L369.84 62.22 L371.19 61.86 L372.55 61.50 L373.90 61.14 L375.25 60.78 L376.61 60.42 L377.96 60.06 L379.32 59.70 L380.67 59.34 L382.02 58.98 L383.38 58.62 L384.73 58.26 L386.09 57.91 L387.44 57.55 L388.80 57.19 L390.15 56.82 L391.51 56.46 L392.86 56.10 L394.22 55.74 L395.58 55.37 L396.93 55.01 L398.29 54.64 L399.64 54.27 L401.00 53.90 L402.36 53.53 L403.71 53.15 L405.07 52.78 L406.42 52.40 L407.78 52.02 L409.14 51.63 L410.49 51.25 L411.85 50.86 L413.21 50.47 L414.56 50.08 L415.92 49.68 L417.28 49.28 L418.64 48.88 L419.99 48.47 L421.35 48.06 L422.71 47.65 L424.07 47.23 L425.42 46.81 L426.78 46.39 L428.14 45.96 L429.50 45.52 L430.85 45.09 L432.21 44.65 L433.57 44.20 L434.93 43.75 L436.29 43.29 L437.65 42.83 L439.01 42.37 L440.36 41.90 L441.72 41.42 L443.08 40.94 L444.44 40.45" stroke="#a6e4bd" stroke-width="0.4"/>
<path d="M39.00 265.40 L40.25 265.19 L41.49 264.98 L42.74 264.76 L43.98 264.53 L45.23 264.30 L46.47 264.07 L47.71 263.83 L48.95 263.58 L50.18 263.33 L51.42 263.07 L52.65 262.81 L53.89 262.54 L55.12 262.27 L56.35 261.99 L57.58 261.71 L58.80 261.42 L60.03 261.13 L61.25 260.84 L62.48 260.53 L63.69 260.21 L64.91 259.87 L66.12 259.52 L67.33 259.16 L68.53 258.79 L69.74 258.41 L70.95 258.02 L72.15 257.64 L73.35 257.25 L74.56 256.86 L75.76 256.47 L76.96 256.09 L78.17 255.71 L79.38 255.33 L80.59 254.97 L81.80 254.62 L83.01 254.27 L84.23 253.95 L85.45 253.63 L86.68 253.34 L87.91 253.08 L89.16 252.84 L90.40 252.60 L91.63 252.33 L92.85 252.04 L94.06 251.70 L95.25 251.34 L96.44 250.95 L97.63 250.53 L98.81 250.09 L99.99 249.64 L101.16 249.16 L102.33 248.67 L103.49 248.17 L104.65 247.65 L105.81 247.13 L106.97 246.60 L108.12 246.07 L109.27 245.54 L110.42 245.00 L111.57 244.47 L112.72 243.95 L113.87 243.43 L115.02 242.92 L116.18 242.40 L117.33 241.87 L118.48 241.34 L119.62 240.80 L120.76 240.26 L121.90 239.70 L123.03 239.13 L124.15 238.55 L125.25 237.96 L126.35 237.34 L127.44 236.71 L128.52 236.05 L129.59 235.38 L130.64 234.68 L131.68 233.96 L132.71 233.22 L133.70 232.46 L134.67 231.65 L135.62 230.82 L136.55 229.97 L137.49 229.12 L138.44 228.28 L139.40 227.46 L140.37 226.65 L141.33 225.83 L142.30 225.02 L143.28 224.22 L144.27 223.44 L145.28 222.69 L146.31 221.97 L147.38 221.29 L148.45 220.61 L149.51 219.93 L150.55 219.22 L151.59 218.50 L152.62 217.76 L153.63 217.01 L154.61 216.22 L155.57 215.41 L156.50 214.56 L157.42 213.69 L158.33 212.81 L159.24 211.93 L160.15 211.06 L161.05 210.17 L161.95 209.28 L162.84 208.39 L163.74 207.50 L164.65 206.63 L165.57 205.77 L166.52 204.93 L167.47 204.11 L168.44 203.29 L169.41 202.48 L170.39 201.67 L171.36 200.87 L172.34 200.06 L173.30 199.25 L174.26 198.42 L175.20 197.59 L176.13 196.74 L177.03 195.87 L177.93 194.99 L178.81 194.10 L179.70 193.20 L180.57 192.29 L181.44 191.38 L182.31 190.46 L183.16 189.53 L184.02 188.60 L184.87 187.66 L185.71 186.71 L186.54 185.76 L187.38 184.81 L188.20 183.85 L189.02 182.88 L189.84 181.92 L190.65 180.95 L191.46 179.97 L192.26 179.00 L193.06 178.02 L193.86 177.04 L194.65 176.06 L195.43 175.08 L196.21 174.09 L196.99 173.10 L197.76 172.10 L198.52 171.10 L199.29 170.09 L200.04 169.08 L200.79 168.07 L201.54 167.05 L202.28 166.02 L203.02 165.00 L203.76 163.97 L204.49 162.94 L205.22 161.91 L205.95 160.87 L206.67 159.84 L207.39 158.80 L208.11 157.76 L208.82 156.72 L209.54 155.68 L210.25 154.64 L210.96 153.60 L211.67 152.55 L212.38 151.51 L213.09 150.46 L213.79 149.41 L214.50 148.36 L215.20 147.31 L215.89 146.25 L216.58 145.19 L217.27 144.13 L217.95 143.07 L218.62 142.00 L219.29 140.93 L219.95 139.85 L220.60 138.77 L221.24 137.69 L221.88 136.60 L222.50 135.50 L223.10 134.40 L223.68 133.28 L224.25 132.16 L224.81 131.02 L225.37 129.89 L225.94 128.76 L226.51 127.63 L227.10 126.52 L227.71 125.41 L228.32 124.31 L228.93 123.21 L229.56 122.11 L230.19 121.01 L230.82 119.92 L231.46 118.83 L232.10 117.74 L232.74 116.66 L233.39 115.57 L234.04 114.49 L234.69 113.40 L235.34 112.32 L235.99 111.24 L236.64 110.15 L237.29 109.07 L237.94 107.99 L238.59 106.90 L239.23 105.81 L239.87 104.72 L240.50 103.63 L241.13 102.54 L241.76 101.44 L242.38 100.35 L242.99 99.24 L243.60 98.14 L244.19 97.03 L244.78 95.92 L245.36 94.80 L245.94 93.68 L246.51 92.56 L247.07 91.43 L247.64 90.31 L248.19 89.18 L248.75 88.04 L249.30 86.91 L249.84 85.77 L250.39 84.63 L250.93 83.49 L251.46 82.35 L252.00 81.21 L252.53 80.06 L253.06 78.92 L253.59 77.77 L254.12 76.62 L254.64 75.47 L255.17 74.32 L255.69 73.17 L256.21 72.02 L256.73 70.87 L257.25 69.72 L257.78 68.57 L258.30 67.42 L258.82 66.27 L259.34 65.12 L259.86 63.97 L260.39 62.82 L260.91 61.67 L261.44 60.52 L261.97 59.37 L262.49 58.23 L263.03 57.08 L263.56 55.94 L264.10 54.79 L264.64 53.65 L265.19 52.52 L265.74 51.38 L266.29 50.24 L266.84 49.11 L267.39 47.97 L267.94 46.83 L268.48 45.69 L269.01 44.55 L269.54 43.40 L270.06 42.25 L270.56 41.10 L271.05 39.94 L271.55 38.78 L272.04 37.62 L272.52 36.46 L273.01 35.29 L273.49 34.13 L273.97 32.96 L274.45 31.80 L274.92 30.63 L275.39 29.46 L275.86 28.29 L276.32 27.11 L276.79 25.94 L277.24 24.76 L277.70 23.58 L278.15 22.40 L278.59 21.22 L279.04 20.04 L279.48 18.86 L279.91 17.67 L280.34 16.48 L280.77 15.29 L281.19 14.10 L281.60 12.91 L282.02 11.71 L282.42 10.51 L282.82 9.31 L283.22 8.11 L283.61 6.91 L284.00 5.70" stroke="#000" stroke-width="2.5" stroke-dasharray="1.25 1.6"/>
<path d="M39.00 265.00 L39.83 264.86 L40.65 264.71 L41.48 264.57 L42.31 264.42 L43.13 264.26 L43.96 264.11 L44.78 263.95 L45.60 263.79 L46.43 263.63 L47.25 263.47 L48.07 263.30 L48.89 263.14 L49.71 262.97 L50.53 262.79 L51.35 262.62 L52.17 262.44 L52.99 262.26 L53.80 262.08 L54.62 261.90 L55.44 261.71 L56.25 261.53 L57.07 261.34 L57.88 261.15 L58.70 260.96 L59.51 260.76 L60.32 260.57 L61.13 260.37 L61.94 260.16 L62.75 259.96 L63.56 259.74 L64.37 259.52 L65.17 259.30 L65.98 259.07 L66.78 258.83 L67.58 258.59 L68.39 258.35 L69.19 258.11 L69.99 257.86 L70.79 257.61 L71.59 257.36 L72.39 257.11 L73.19 256.85 L73.99 256.60 L74.79 256.35 L75.59 256.09 L76.39 255.84 L77.19 255.59 L77.99 255.34 L78.79 255.09 L79.59 254.84 L80.39 254.60 L81.19 254.35 L82.00 254.12 L82.80 253.88 L83.61 253.65 L84.41 253.43 L85.22 253.21 L86.03 252.99 L86.84 252.79 L87.66 252.60 L88.48 252.41 L89.30 252.23 L90.12 252.04 L90.94 251.85 L91.75 251.65 L92.55 251.43 L93.34 251.19 L94.13 250.94 L94.92 250.68 L95.70 250.40 L96.48 250.11 L97.26 249.81 L98.03 249.50 L98.81 249.18 L99.58 248.85 L100.34 248.51 L101.11 248.17 L101.87 247.82 L102.63 247.46 L103.39 247.10 L104.15 246.74 L104.91 246.37 L105.67 245.99 L106.42 245.62 L107.18 245.24 L107.93 244.86 L108.68 244.48 L109.44 244.10 L110.19 243.73 L110.94 243.35 L111.70 242.98 L112.45 242.61 L113.20 242.24 L113.96 241.88 L114.71 241.52 L115.47 241.16 L116.22 240.79 L116.98 240.43 L117.74 240.06 L118.49 239.69 L119.24 239.32 L119.99 238.95 L120.74 238.57 L121.49 238.19 L122.23 237.80 L122.98 237.41 L123.71 237.02 L124.45 236.62 L125.18 236.21 L125.90 235.80 L126.63 235.38 L127.35 234.96 L128.07 234.52 L128.78 234.09 L129.50 233.64 L130.20 233.18 L130.90 232.72 L131.59 232.24 L132.27 231.75 L132.93 231.25 L133.59 230.73 L134.23 230.20 L134.86 229.65 L135.48 229.08 L136.09 228.50 L136.69 227.91 L137.28 227.32 L137.87 226.72 L138.44 226.11 L139.01 225.48 L139.55 224.84 L140.06 224.19 L140.55 223.51 L141.01 222.80 L141.45 222.08 L141.84 221.34 L142.18 220.59 L142.48 219.81 L142.75 219.01 L143.01 218.21 L143.27 217.41 L143.53 216.61 L143.78 215.82 L144.03 215.02 L144.28 214.22 L144.52 213.41 L144.77 212.61 L145.01 211.81 L145.25 211.01 L145.49 210.21 L145.72 209.40 L145.96 208.60 L146.19 207.79 L146.42 206.99 L146.65 206.18 L146.87 205.38 L147.09 204.57 L147.31 203.76 L147.53 202.95 L147.74 202.14 L147.96 201.33 L148.17 200.52 L148.37 199.71 L148.58 198.90 L148.79 198.09 L149.00 197.27 L149.20 196.46 L149.41 195.65 L149.61 194.84 L149.81 194.02 L150.02 193.21 L150.22 192.40 L150.42 191.59 L150.62 190.77 L150.82 189.96 L151.02 189.15 L151.22 188.33 L151.41 187.52 L151.61 186.70 L151.81 185.89 L152.01 185.08 L152.20 184.26 L152.40 183.45 L152.59 182.63 L152.79 181.82 L152.98 181.00 L153.17 180.19 L153.37 179.37 L153.56 178.56 L153.75 177.74 L153.95 176.93 L154.14 176.11 L154.33 175.30 L154.52 174.48 L154.71 173.67 L154.91 172.85 L155.10 172.04 L155.29 171.22 L155.48 170.41 L155.67 169.59 L155.87 168.78 L156.06 167.96 L156.25 167.14 L156.44 166.33 L156.63 165.51 L156.82 164.70 L157.02 163.88 L157.21 163.07 L157.40 162.25 L157.59 161.43 L157.78 160.62 L157.97 159.80 L158.16 158.99 L158.35 158.17 L158.53 157.35 L158.72 156.54 L158.91 155.72 L159.10 154.90 L159.28 154.09 L159.47 153.27 L159.65 152.45 L159.84 151.64 L160.02 150.82 L160.21 150.00 L160.39 149.18 L160.57 148.37 L160.75 147.55 L160.93 146.73 L161.11 145.91 L161.29 145.09 L161.47 144.28 L161.64 143.46 L161.82 142.64 L161.99 141.82 L162.17 141.00 L162.34 140.18 L162.51 139.36 L162.68 138.54 L162.85 137.72 L163.02 136.90 L163.18 136.08 L163.35 135.26 L163.51 134.44 L163.68 133.62 L163.84 132.80 L164.00 131.98 L164.16 131.16 L164.32 130.33 L164.48 129.51 L164.64 128.69 L164.80 127.87 L164.95 127.04 L165.11 126.22 L165.26 125.40 L165.42 124.58 L165.57 123.75 L165.72 122.93 L165.87 122.10 L166.03 121.28 L166.18 120.46 L166.33 119.63 L166.48 118.81 L166.63 117.98 L166.78 117.16 L166.92 116.34 L167.07 115.51 L167.22 114.69 L167.37 113.86 L167.51 113.04 L167.66 112.21 L167.81 111.39 L167.95 110.56 L168.10 109.74 L168.25 108.91 L168.39 108.09 L168.54 107.26 L168.68 106.44 L168.83 105.61 L168.97 104.79 L169.12 103.96 L169.26 103.14 L169.41 102.31 L169.55 101.49 L169.70 100.66 L169.84 99.84 L169.99 99.01 L170.13 98.19 L170.28 97.36 L170.43 96.54 L170.57 95.71 L170.72 94.89 L170.87 94.06 L171.01 93.24 L171.16 92.41 L171.31 91.59 L171.45 90.77 L171.60 89.94 L171.74 89.12 L171.89 88.29 L172.04 87.47 L172.18 86.64 L172.33 85.82 L172.47 84.99 L172.62 84.17 L172.76 83.34 L172.91 82.52 L173.05 81.69 L173.20 80.87 L173.34 80.04 L173.48 79.22 L173.63 78.39 L173.77 77.57 L173.92 76.74 L174.06 75.92 L174.20 75.09 L174.35 74.27 L174.49 73.44 L174.64 72.62 L174.78 71.79 L174.92 70.97 L175.06 70.14 L175.21 69.32 L175.35 68.49 L175.49 67.66 L175.64 66.84 L175.78 66.01 L175.92 65.19 L176.06 64.36 L176.20 63.54 L176.35 62.71 L176.49 61.89 L176.63 61.06 L176.77 60.24 L176.91 59.41 L177.05 58.58 L177.20 57.76 L177.34 56.93 L177.48 56.11 L177.62 55.28 L177.76 54.46 L177.90 53.63 L178.04 52.81 L178.18 51.98 L178.32 51.15 L178.46 50.33 L178.60 49.50 L178.74 48.68 L178.88 47.85 L179.02 47.02 L179.16 46.20 L179.30 45.37 L179.44 44.55 L179.58 43.72 L179.71 42.90 L179.85 42.07 L179.99 41.24 L180.13 40.42 L180.27 39.59 L180.41 38.77 L180.54 37.94 L180.68 37.11 L180.82 36.29 L180.96 35.46 L181.09 34.63 L181.23 33.81 L181.37 32.98 L181.51 32.16 L181.64 31.33 L181.78 30.50 L181.91 29.68 L182.05 28.85 L182.19 28.02 L182.32 27.20 L182.46 26.37 L182.59 25.54 L182.73 24.72 L182.86 23.89 L183.00 23.06 L183.13 22.24 L183.27 21.41 L183.40 20.58 L183.54 19.76 L183.67 18.93 L183.81 18.10 L183.94 17.28 L184.07 16.45 L184.21 15.62 L184.34 14.80 L184.47 13.97 L184.61 13.14 L184.74 12.32 L184.87 11.49 L185.01 10.66 L185.14 9.84 L185.27 9.01 L185.40 8.18 L185.54 7.35 L185.67 6.53 L185.80 5.70" stroke="#ff1493" stroke-width="2.6" stroke-linejoin="round"/>
<path d="M39.00 265.86 L40.35 265.66 L41.71 265.44 L43.06 265.22 L44.42 264.98 L45.77 264.74 L47.13 264.49 L48.48 264.23 L49.84 263.96 L51.19 263.68 L52.55 263.39 L53.90 263.10 L55.25 262.80 L56.61 262.49 L57.96 262.18 L59.32 261.85 L60.67 261.52 L62.03 261.18 L63.38 260.84 L64.74 260.49 L66.09 260.13 L67.44 259.77 L68.80 259.40 L70.15 259.02 L71.51 258.64 L72.86 258.25 L74.22 257.86 L75.57 257.46 L76.93 257.06 L78.28 256.65 L79.64 256.24 L80.99 255.82 L82.34 255.40 L83.70 254.97 L85.05 254.54 L86.41 254.11 L87.76 253.67 L89.12 253.23 L90.47 252.78 L91.83 252.33 L93.18 251.88 L94.54 251.42 L95.89 250.96 L97.24 250.50 L98.60 250.04 L99.95 249.57 L101.31 249.10 L102.66 248.63 L104.02 248.16 L105.37 247.69 L106.73 247.21 L108.08 246.74 L109.43 246.26 L110.79 245.78 L112.14 245.30 L113.50 244.82 L114.85 244.33 L116.21 243.85 L117.56 243.37 L118.92 242.89 L120.27 242.41 L121.63 241.92 L122.98 241.44 L124.33 240.96 L125.69 240.48 L127.04 240.00 L128.40 239.52 L129.75 239.04 L131.11 238.57 L132.46 238.09 L133.82 237.60 L135.17 237.12 L136.53 236.63 L137.88 236.13 L139.23 235.62 L140.59 235.10 L141.94 234.57 L143.30 234.03 L144.65 233.47 L146.01 232.89 L147.36 232.30 L148.72 231.69 L150.07 231.06 L151.42 230.41 L152.78 229.73 L154.13 229.02 L155.49 228.29 L156.84 227.51 L158.20 226.67 L159.55 225.78 L160.91 224.81 L162.26 223.77 L163.62 222.63 L164.97 221.39 L166.32 220.07 L167.68 218.66 L169.03 217.20 L170.39 215.68 L171.74 214.13 L173.10 212.57 L174.45 211.00 L175.81 209.44 L177.16 207.90 L178.52 206.37 L179.87 204.86 L181.22 203.36 L182.58 201.88 L183.93 200.41 L185.29 198.95 L186.64 197.50 L188.00 196.06 L189.35 194.63 L190.71 193.21 L192.06 191.80 L193.41 190.39 L194.77 188.99 L196.12 187.60 L197.48 186.21 L198.83 184.83 L200.19 183.45 L201.54 182.07 L202.90 180.70 L204.25 179.34 L205.61 177.98 L206.96 176.63 L208.31 175.29 L209.67 173.95 L211.02 172.62 L212.38 171.30 L213.73 169.99 L215.09 168.68 L216.44 167.39 L217.80 166.10 L219.15 164.83 L220.51 163.56 L221.86 162.31 L223.21 161.07 L224.57 159.84 L225.92 158.62 L227.28 157.41 L228.63 156.22 L229.99 155.04 L231.34 153.87 L232.70 152.71 L234.05 151.57 L235.40 150.45 L236.76 149.34 L238.11 148.24 L239.47 147.16 L240.82 146.10 L242.18 145.05 L243.53 144.01 L244.89 142.99 L246.24 141.98 L247.60 140.98 L248.95 140.00 L250.30 139.03 L251.66 138.07 L253.01 137.13 L254.37 136.19 L255.72 135.27 L257.08 134.36 L258.43 133.46 L259.79 132.58 L261.14 131.70 L262.49 130.84 L263.85 129.98 L265.20 129.13 L266.56 128.30 L267.91 127.47 L269.27 126.66 L270.62 125.85 L271.98 125.05 L273.33 124.26 L274.69 123.48 L276.04 122.70 L277.39 121.94 L278.75 121.18 L280.10 120.43 L281.46 119.68 L282.81 118.94 L284.17 118.21 L285.52 117.49 L286.88 116.77 L288.23 116.05 L289.59 115.35 L290.94 114.64 L292.29 113.95 L293.65 113.25 L295.00 112.56 L296.36 111.88 L297.71 111.20 L299.07 110.52 L300.42 109.85 L301.78 109.17 L303.13 108.51 L304.48 107.84 L305.84 107.18 L307.19 106.52 L308.55 105.86 L309.90 105.20 L311.26 104.54 L312.61 103.89 L313.97 103.23 L315.32 102.58 L316.68 101.92 L318.03 101.27 L319.38 100.62 L320.74 99.97 L322.09 99.31 L323.45 98.66 L324.80 98.01 L326.16 97.36 L327.51 96.71 L328.87 96.06 L330.22 95.41 L331.58 94.76 L332.93 94.11 L334.28 93.46 L335.64 92.82 L336.99 92.17 L338.35 91.52 L339.70 90.88 L341.06 90.23 L342.41 89.59 L343.77 88.95 L345.12 88.30 L346.47 87.66 L347.83 87.02 L349.18 86.38 L350.54 85.74 L351.89 85.10 L353.25 84.46 L354.60 83.83 L355.96 83.19 L357.31 82.55 L358.67 81.92 L360.02 81.29 L361.37 80.65 L362.73 80.02 L364.08 79.39 L365.44 78.76 L366.79 78.13 L368.15 77.50 L369.50 76.87 L370.86 76.25 L372.21 75.62 L373.57 75.00 L374.92 74.37 L376.27 73.75 L377.63 73.13 L378.98 72.51 L380.34 71.89 L381.69 71.27 L383.05 70.66 L384.40 70.04 L385.76 69.43 L387.11 68.82 L388.46 68.20 L389.82 67.59 L391.17 66.98 L392.53 66.38 L393.88 65.77 L395.24 65.16 L396.59 64.56 L397.95 63.96 L399.30 63.36 L400.66 62.76 L402.01 62.16 L403.36 61.56 L404.72 60.97 L406.07 60.37 L407.43 59.78 L408.78 59.19 L410.14 58.60 L411.49 58.01 L412.85 57.42 L414.20 56.84 L415.56 56.25 L416.91 55.67 L418.26 55.09 L419.62 54.51 L420.97 53.94 L422.33 53.36 L423.68 52.79 L425.04 52.21 L426.39 51.64 L427.75 51.07 L429.10 50.51 L430.45 49.94 L431.81 49.38 L433.16 48.82 L434.52 48.26 L435.87 47.70 L437.23 47.14 L438.58 46.59 L439.94 46.03 L441.29 45.48 L442.65 44.94 L444.00 44.39" stroke="#1e90ff" stroke-width="2.5" stroke-dasharray="3.2 0.9 0.8 1.4"/>
</g>
<path d="M39.20 283.00 V279.20 M39.20 5.90 V9.70 M55.39 283.00 V281.10 M55.39 5.90 V7.80 M71.58 283.00 V281.10 M71.58 5.90 V7.80 M87.78 283.00 V281.10 M87.78 5.90 V7.80 M103.97 283.00 V281.10 M103.97 5.90 V7.80 M120.16 283.00 V279.20 M120.16 5.90 V9.70 M136.35 283.00 V281.10 M136.35 5.90 V7.80 M152.54 283.00 V281.10 M152.54 5.90 V7.80 M168.74 283.00 V281.10 M168.74 5.90 V7.80 M184.93 283.00 V281.10 M184.93 5.90 V7.80 M201.12 283.00 V279.20 M201.12 5.90 V9.70 M217.31 283.00 V281.10 M217.31 5.90 V7.80 M233.50 283.00 V281.10 M233.50 5.90 V7.80 M249.70 283.00 V281.10 M249.70 5.90 V7.80 M265.89 283.00 V281.10 M265.89 5.90 V7.80 M282.08 283.00 V279.20 M282.08 5.90 V9.70 M298.27 283.00 V281.10 M298.27 5.90 V7.80 M314.46 283.00 V281.10 M314.46 5.90 V7.80 M330.66 283.00 V281.10 M330.66 5.90 V7.80 M346.85 283.00 V281.10 M346.85 5.90 V7.80 M363.04 283.00 V279.20 M363.04 5.90 V9.70 M379.23 283.00 V281.10 M379.23 5.90 V7.80 M395.42 283.00 V281.10 M395.42 5.90 V7.80 M411.62 283.00 V281.10 M411.62 5.90 V7.80 M427.81 283.00 V281.10 M427.81 5.90 V7.80 M444.00 283.00 V279.20 M444.00 5.90 V9.70 M39.20 283.00 H43.00 M444.00 283.00 H440.20 M39.20 269.14 H41.10 M444.00 269.14 H442.10 M39.20 255.29 H41.10 M444.00 255.29 H442.10 M39.20 241.44 H41.10 M444.00 241.44 H442.10 M39.20 227.58 H41.10 M444.00 227.58 H442.10 M39.20 213.72 H43.00 M444.00 213.72 H440.20 M39.20 199.87 H41.10 M444.00 199.87 H442.10 M39.20 186.01 H41.10 M444.00 186.01 H442.10 M39.20 172.16 H41.10 M444.00 172.16 H442.10 M39.20 158.31 H41.10 M444.00 158.31 H442.10 M39.20 144.45 H43.00 M444.00 144.45 H440.20 M39.20 130.59 H41.10 M444.00 130.59 H442.10 M39.20 116.74 H41.10 M444.00 116.74 H442.10 M39.20 102.88 H41.10 M444.00 102.88 H442.10 M39.20 89.03 H41.10 M444.00 89.03 H442.10 M39.20 75.17 H43.00 M444.00 75.17 H440.20 M39.20 61.32 H41.10 M444.00 61.32 H442.10 M39.20 47.46 H41.10 M444.00 47.46 H442.10 M39.20 33.61 H41.10 M444.00 33.61 H442.10 M39.20 19.75 H41.10 M444.00 19.75 H442.10 M39.20 5.90 H43.00 M444.00 5.90 H440.20" stroke="#444444" stroke-width="0.8" fill="none"/>
<rect x="39.20" y="5.90" width="404.80" height="277.10" fill="none" stroke="#444444" stroke-width="1.25"/>
<circle cx="98.40" cy="277.50" r="5" fill="#ff0000"/>
<circle cx="128.10" cy="269.10" r="5" fill="#ff0000"/>
<circle cx="152.25" cy="256.50" r="5" fill="#ff0000"/>
<circle cx="170.90" cy="244.10" r="5" fill="#ff0000"/>
<circle cx="187.50" cy="227.40" r="5" fill="#ff0000"/>
<circle cx="202.50" cy="208.10" r="5" fill="#ff0000"/>
<circle cx="215.25" cy="191.25" r="5" fill="#ff0000"/>
<circle cx="226.25" cy="179.00" r="5" fill="#ff0000"/>
<circle cx="246.90" cy="157.75" r="5" fill="#ff0000"/>
<circle cx="256.25" cy="147.50" r="5" fill="#ff0000"/>
<circle cx="273.10" cy="131.50" r="5" fill="#ff0000"/>
<circle cx="294.40" cy="111.25" r="5" fill="#ff0000"/>
<circle cx="311.50" cy="99.60" r="5" fill="#ff0000"/>
<circle cx="334.10" cy="84.00" r="5" fill="#ff0000"/>
<circle cx="357.90" cy="70.40" r="5" fill="#ff0000"/>
<circle cx="384.40" cy="57.75" r="5" fill="#ff0000"/>
<circle cx="426.60" cy="41.00" r="5" fill="#ff0000"/>
<path d="M89.90 277.50 L94.75 272.75 L99.60 277.50 L94.75 282.25 Z" fill="none" stroke="#1e7a1e" stroke-width="1.2"/><circle cx="94.75" cy="277.50" r="0.65" fill="#1e7a1e"/>
<path d="M136.25 265.00 L141.10 260.25 L145.95 265.00 L141.10 269.75 Z" fill="none" stroke="#1e7a1e" stroke-width="1.2"/><circle cx="141.10" cy="265.00" r="0.65" fill="#1e7a1e"/>
<path d="M166.05 248.40 L170.90 243.65 L175.75 248.40 L170.90 253.15 Z" fill="none" stroke="#1e7a1e" stroke-width="1.2"/><circle cx="170.90" cy="248.40" r="0.65" fill="#1e7a1e"/>
<path d="M188.25 224.60 L193.10 219.85 L197.95 224.60 L193.10 229.35 Z" fill="none" stroke="#1e7a1e" stroke-width="1.2"/><circle cx="193.10" cy="224.60" r="0.65" fill="#1e7a1e"/>
<path d="M206.65 198.40 L211.50 193.65 L216.35 198.40 L211.50 203.15 Z" fill="none" stroke="#1e7a1e" stroke-width="1.2"/><circle cx="211.50" cy="198.40" r="0.65" fill="#1e7a1e"/>
<path d="M219.55 178.75 L224.40 174.00 L229.25 178.75 L224.40 183.50 Z" fill="none" stroke="#1e7a1e" stroke-width="1.2"/><circle cx="224.40" cy="178.75" r="0.65" fill="#1e7a1e"/>
<path d="M234.75 160.90 L239.60 156.15 L244.45 160.90 L239.60 165.65 Z" fill="none" stroke="#1e7a1e" stroke-width="1.2"/><circle cx="239.60" cy="160.90" r="0.65" fill="#1e7a1e"/>
<path d="M248.90 143.75 L253.75 139.00 L258.60 143.75 L253.75 148.50 Z" fill="none" stroke="#1e7a1e" stroke-width="1.2"/><circle cx="253.75" cy="143.75" r="0.65" fill="#1e7a1e"/>
<path d="M264.15 128.75 L269.00 124.00 L273.85 128.75 L269.00 133.50 Z" fill="none" stroke="#1e7a1e" stroke-width="1.2"/><circle cx="269.00" cy="128.75" r="0.65" fill="#1e7a1e"/>
<path d="M282.35 111.20 L287.20 106.45 L292.05 111.20 L287.20 115.95 Z" fill="none" stroke="#1e7a1e" stroke-width="1.2"/><circle cx="287.20" cy="111.20" r="0.65" fill="#1e7a1e"/>
<path d="M316.15 84.40 L321.00 79.65 L325.85 84.40 L321.00 89.15 Z" fill="none" stroke="#1e7a1e" stroke-width="1.2"/><circle cx="321.00" cy="84.40" r="0.65" fill="#1e7a1e"/>
<path d="M345.75 67.50 L350.60 62.75 L355.45 67.50 L350.60 72.25 Z" fill="none" stroke="#1e7a1e" stroke-width="1.2"/><circle cx="350.60" cy="67.50" r="0.65" fill="#1e7a1e"/>
<path d="M384.85 49.80 L389.70 45.05 L394.55 49.80 L389.70 54.55 Z" fill="none" stroke="#1e7a1e" stroke-width="1.2"/><circle cx="389.70" cy="49.80" r="0.65" fill="#1e7a1e"/>
<path d="M421.75 35.60 L426.60 30.85 L431.45 35.60 L426.60 40.35 Z" fill="none" stroke="#1e7a1e" stroke-width="1.2"/><circle cx="426.60" cy="35.60" r="0.65" fill="#1e7a1e"/>
<path d="M33.90 267.70 L38.90 262.70 L43.90 267.70 L38.90 272.70 Z" fill="#000"/><path d="M38.00 262.60 h1.8 M38.00 272.80 h1.8" stroke="#000" stroke-width="0.5"/>
<path d="M58.50 263.00 L63.50 258.00 L68.50 263.00 L63.50 268.00 Z" fill="#000"/><path d="M62.60 257.90 h1.8 M62.60 268.10 h1.8" stroke="#000" stroke-width="0.5"/>
<path d="M81.10 257.40 L86.10 252.40 L91.10 257.40 L86.10 262.40 Z" fill="#000"/><path d="M85.20 252.30 h1.8 M85.20 262.50 h1.8" stroke="#000" stroke-width="0.5"/>
<path d="M97.10 251.10 L102.10 246.10 L107.10 251.10 L102.10 256.10 Z" fill="#000"/><path d="M101.20 246.00 h1.8 M101.20 256.20 h1.8" stroke="#000" stroke-width="0.5"/>
<path d="M110.00 244.80 L115.00 239.80 L120.00 244.80 L115.00 249.80 Z" fill="#000"/><path d="M114.10 239.70 h1.8 M114.10 249.90 h1.8" stroke="#000" stroke-width="0.5"/>
<path d="M118.10 238.80 L123.10 233.80 L128.10 238.80 L123.10 243.80 Z" fill="#000"/><path d="M122.20 233.70 h1.8 M122.20 243.90 h1.8" stroke="#000" stroke-width="0.5"/>
<path d="M128.10 232.40 L133.10 227.40 L138.10 232.40 L133.10 237.40 Z" fill="#000"/><path d="M132.20 227.30 h1.8 M132.20 237.50 h1.8" stroke="#000" stroke-width="0.5"/>
<path d="M140.00 221.20 L145.00 216.20 L150.00 221.20 L145.00 226.20 Z" fill="#000"/><path d="M144.10 216.10 h1.8 M144.10 226.30 h1.8" stroke="#000" stroke-width="0.5"/>
<path d="M155.10 208.50 L160.10 203.50 L165.10 208.50 L160.10 213.50 Z" fill="#000"/><path d="M159.20 203.40 h1.8 M159.20 213.60 h1.8" stroke="#000" stroke-width="0.5"/>
<path d="M196.10 171.30 L201.10 166.30 L206.10 171.30 L201.10 176.30 Z" fill="#000"/><path d="M200.20 166.20 h1.8 M200.20 176.40 h1.8" stroke="#000" stroke-width="0.5"/>
<path d="M241.50 136.50 L246.50 131.50 L251.50 136.50 L246.50 141.50 Z" fill="#000"/><path d="M245.60 131.40 h1.8 M245.60 141.60 h1.8" stroke="#000" stroke-width="0.5"/>
<path d="M277.40 114.60 L282.40 109.60 L287.40 114.60 L282.40 119.60 Z" fill="#000"/><path d="M281.50 109.50 h1.8 M281.50 119.70 h1.8" stroke="#000" stroke-width="0.5"/>
<path d="M356.30 79.30 L361.30 74.30 L366.30 79.30 L361.30 84.30 Z" fill="#000"/><path d="M360.40 74.20 h1.8 M360.40 84.40 h1.8" stroke="#000" stroke-width="0.5"/>
<g fill="none">
<path d="M290.70 166.40 H330.00" stroke="#000" stroke-width="2.5" stroke-dasharray="1.25 1.6"/>
<path d="M290.70 182.60 H330.00" stroke="#b8ecca" stroke-width="2.5"/>
<path d="M290.70 182.60 H330.00" stroke="#42c574" stroke-width="2.5" stroke-dasharray="1.9 0.95"/>
<path d="M290.70 198.70 H330.00" stroke="#ff1493" stroke-width="2.5"/>
<path d="M290.70 215.00 H330.00" stroke="#1e90ff" stroke-width="2.4" stroke-dasharray="3.2 0.9 0.8 1.4"/>
</g>
<circle cx="310.40" cy="230.90" r="5" fill="#ff0000"/>
<path d="M305.55 247.30 L310.40 242.55 L315.25 247.30 L310.40 252.05 Z" fill="none" stroke="#1e7a1e" stroke-width="1.2"/><circle cx="310.40" cy="247.30" r="0.65" fill="#1e7a1e"/>
<path d="M290.70 263.50 H330.00" stroke="#000" stroke-width="0.85" stroke-dasharray="3 1 0.8 1" fill="none"/><path d="M290.70 261.30 V265.70 M330.00 261.30 V265.70" stroke="#000" stroke-width="0.85"/>
<path d="M305.40 263.50 L310.40 258.50 L315.40 263.50 L310.40 268.50 Z" fill="#000"/>
<text transform="translate(338.30 171.80) scale(1 0.930)" font-size="14.75">HRG</text>
<text transform="translate(338.30 187.70) scale(1 0.930)" font-size="14.75">HRG+q</text>
<text transform="translate(338.30 204.00) scale(1 0.930)" font-size="14.75">int. HRG</text>
<text transform="translate(338.30 219.90) scale(1 0.930)" font-size="14.75">int. HRG+q</text>
<text transform="translate(338.30 235.10) scale(1 0.930)" font-size="14.75">asqtad, N<tspan font-size="12.00" dy="3.8">τ</tspan><tspan dy="-3.8">=8</tspan></text>
<text transform="translate(338.30 251.20) scale(1 0.930)" font-size="14.75">p4, N<tspan font-size="12.00" dy="3.8">τ</tspan><tspan dy="-3.8">=8</tspan></text>
<text transform="translate(338.30 268.30) scale(1 0.930)" font-size="14.75">stout, cont.</text>
<text transform="translate(39.20 302.80) scale(1 0.980)" font-size="15.00" text-anchor="middle">100</text>
<text transform="translate(120.16 302.80) scale(1 0.980)" font-size="15.00" text-anchor="middle">150</text>
<text transform="translate(201.12 302.80) scale(1 0.980)" font-size="15.00" text-anchor="middle">200</text>
<text transform="translate(282.08 302.80) scale(1 0.980)" font-size="15.00" text-anchor="middle">250</text>
<text transform="translate(363.04 302.80) scale(1 0.980)" font-size="15.00" text-anchor="middle">300</text>
<text transform="translate(444.00 302.80) scale(1 0.980)" font-size="15.00" text-anchor="middle">350</text>
<text transform="translate(30.00 288.00) scale(1 0.930)" font-size="15.00" text-anchor="end">0</text>
<text transform="translate(30.00 218.72) scale(1 0.930)" font-size="15.00" text-anchor="end">1</text>
<text transform="translate(30.00 149.45) scale(1 0.930)" font-size="15.00" text-anchor="end">2</text>
<text transform="translate(30.00 80.17) scale(1 0.930)" font-size="15.00" text-anchor="end">3</text>
<text transform="translate(30.00 10.90) scale(1 0.930)" font-size="15.00" text-anchor="end">4</text>
<text transform="translate(241.60 323.50) scale(1 1.040)" font-size="15.00" text-anchor="middle">T [MeV]</text>
<text transform="translate(16.0 158.6) rotate(-90) scale(1 0.990)" font-size="15.00">p/T<tspan font-size="12.80" dy="-8.0">4</tspan></text>
<text transform="translate(59.30 38.20) scale(1 1.070)" font-size="16.80">μ<tspan font-size="14.8" dy="4.4">B</tspan><tspan dy="-4.4"> = 0</tspan></text>
</svg></body></html>
